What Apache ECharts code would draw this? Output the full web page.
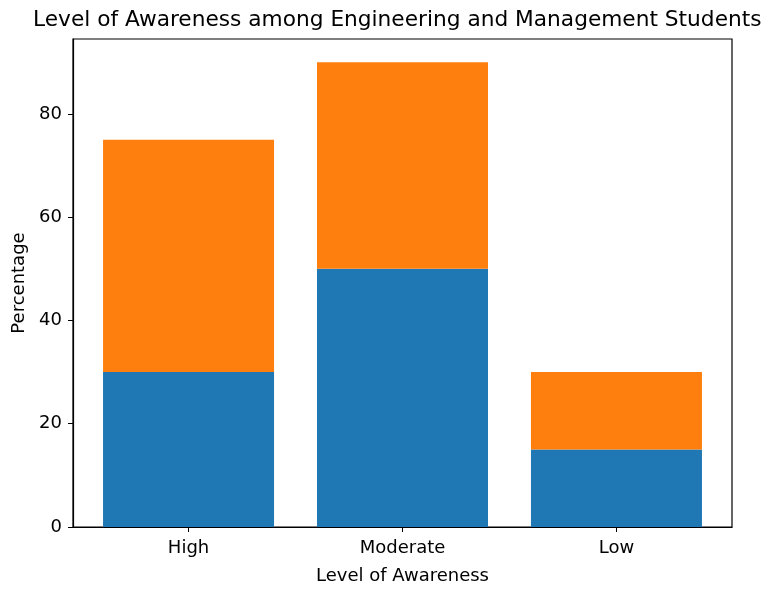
<!DOCTYPE html>
<html>
<head>
<meta charset="utf-8">
<script src="https://cdn.jsdelivr.net/npm/echarts@6/dist/echarts.min.js"></script>
<style>html,body{margin:0;padding:0;background:#fff}#c{width:774px;height:590px}</style>
</head>
<body>
<div id="c"></div>
<script>
const categories = ["High", "Moderate", "Low"];
const engineering = [30, 50, 15];
const management = [45, 40, 15];
const yTicks = [0, 20, 40, 60, 80];

const font = "DejaVu Sans";
const chart = echarts.init(document.getElementById('c'), null, {renderer: 'canvas'});
const xPos = categories.map((c, i) => i);
chart.setOption({
  animation: false,
  backgroundColor: '#fff',
  title: {
    text: 'Level of Awareness among Engineering and Management Students',
    left: 28, top: 4,
    textStyle: {fontFamily: font, fontSize: 21.7, fontWeight: 'normal', color: '#000'}
  },
  grid: {left: 73, top: 39, right: 42, bottom: 61, show: true, borderColor: '#000', borderWidth: 1.2, containLabel: false},
  xAxis: {
    type: 'value', min: -0.54, max: 2.54,
    name: 'Level of Awareness', nameLocation: 'middle', nameGap: 40,
    nameTextStyle: {fontFamily: font, fontSize: 18, color: '#000'},
    axisLine: {show: true, onZero: false, lineStyle: {color: '#000', width: 1.2}},
    axisTick: {show: true, inside: false, customValues: xPos, length: 5, lineStyle: {color: '#000'}},
    axisLabel: {customValues: xPos, fontFamily: font, fontSize: 18, color: '#000', margin: 12,
      formatter: v => categories[Math.round(v)]},
    splitLine: {show: false}
  },
  yAxis: {
    type: 'value', min: 0, max: 94.5,
    name: 'Percentage', nameLocation: 'middle', nameGap: 45, nameRotate: 90,
    nameTextStyle: {fontFamily: font, fontSize: 18, color: '#000'},
    axisLine: {show: true, onZero: false, lineStyle: {color: '#000', width: 1.2}},
    axisTick: {show: true, inside: false, customValues: yTicks, length: 5, lineStyle: {color: '#000'}},
    axisLabel: {customValues: yTicks, fontFamily: font, fontSize: 18, color: '#000', margin: 11},
    splitLine: {show: false}
  },
  series: [
    {type: 'bar', stack: 's', data: xPos.map((x, i) => [engineering[i], x]), encode: {x: 1, y: 0},
     barWidth: 171, itemStyle: {color: '#1f77b4'}},
    {type: 'bar', stack: 's', data: xPos.map((x, i) => [management[i], x]), encode: {x: 1, y: 0},
     barWidth: 171, itemStyle: {color: '#ff7f0e'}}
  ]
});
</script>
</body>
</html>
